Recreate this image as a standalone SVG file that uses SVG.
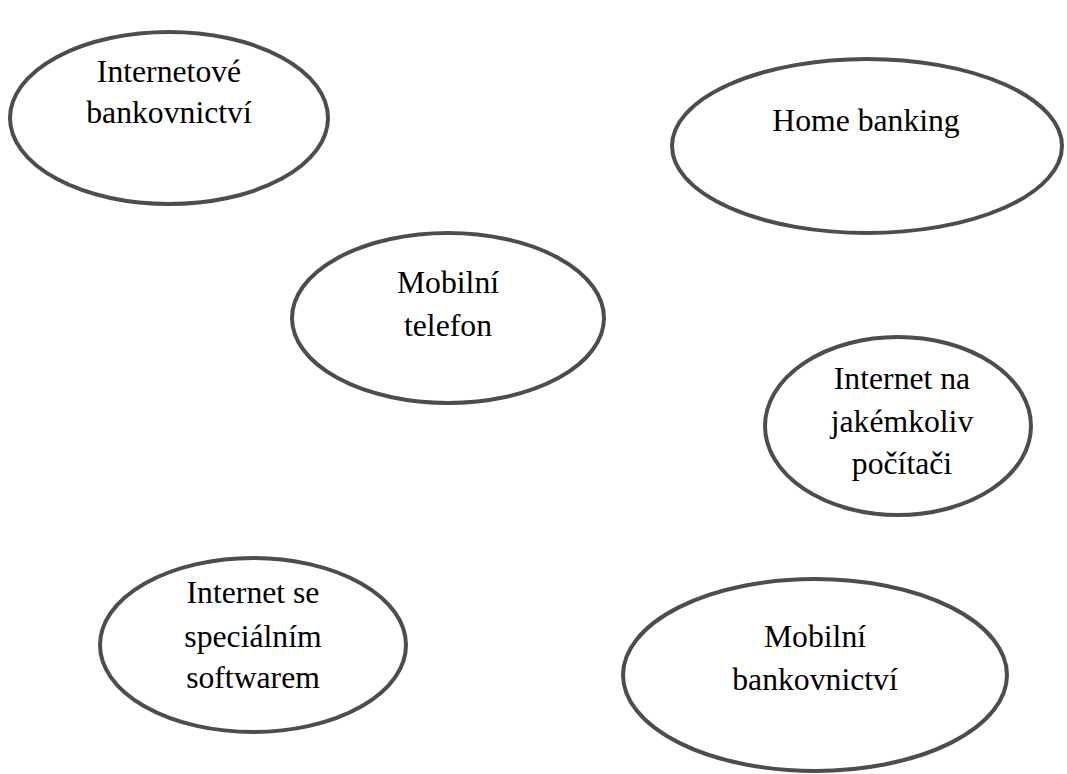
<svg xmlns="http://www.w3.org/2000/svg" width="1067" height="774" viewBox="0 0 1067 774">
<style>
.n ellipse{fill:#fff;stroke:#4d4d4d;stroke-width:4}
.n text{font-family:"Liberation Serif","Times New Roman",serif;font-size:31.7px;fill:#000;text-anchor:middle}
</style>
<rect width="1067" height="774" fill="#fff"/>
<g id="connectors"/>
<g id="n1" class="n"><ellipse cx="169" cy="118" rx="159" ry="86"/><text x="169" y="82">Internetové</text><text x="169" y="123">bankovnictví</text></g>
<g id="n2" class="n"><ellipse cx="867" cy="146" rx="195" ry="87"/><text x="866" y="131">Home banking</text></g>
<g id="n3" class="n"><ellipse cx="448" cy="318" rx="156" ry="85"/><text x="448" y="293">Mobilní</text><text x="448" y="336">telefon</text></g>
<g id="n4" class="n"><ellipse cx="898" cy="426" rx="133" ry="89"/><text x="902" y="389">Internet na</text><text x="902" y="432">jakémkoliv</text><text x="902" y="474">počítači</text></g>
<g id="n5" class="n"><ellipse cx="253" cy="645" rx="153" ry="87"/><text x="253" y="603">Internet se</text><text x="253" y="647">speciálním</text><text x="253" y="688">softwarem</text></g>
<g id="n6" class="n"><ellipse cx="815" cy="675" rx="192" ry="96"/><text x="815" y="647">Mobilní</text><text x="815" y="690">bankovnictví</text></g>
</svg>
